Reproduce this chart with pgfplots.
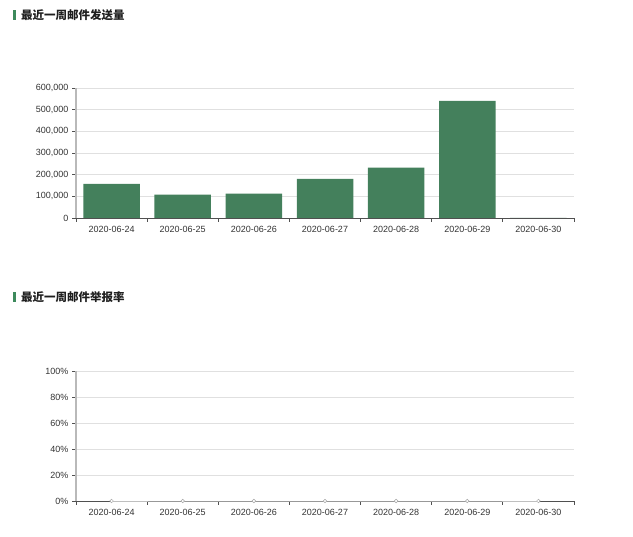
\documentclass[border=0pt]{standalone}
\usepackage{pgfplots}
\pgfplotsset{compat=1.18}
\usepackage{fontspec}
\setmainfont{Liberation Sans}
\newfontfamily\cjk{Noto Sans CJK SC}
\definecolor{bargreen}{RGB}{68,128,92}
\definecolor{titlegreen}{RGB}{61,138,92}
\definecolor{gridgray}{RGB}{224,224,224}
\definecolor{yaxgray}{RGB}{185,185,185}
\definecolor{xaxgray}{RGB}{80,80,80}
\definecolor{txtgray}{RGB}{51,51,51}

\pgfplotsset{
  weekaxis/.style={
    scale only axis,
    width=498pt, height=130pt,
    anchor=south west,
    xmin=-0.5, xmax=6.5,
    xtick={0,...,6},
    xticklabels={2020-06-24,2020-06-25,2020-06-26,2020-06-27,2020-06-28,2020-06-29,2020-06-30},
    major x tick style={draw=none},
    minor xtick={-0.5,0.5,...,6.5},
    minor x tick style={xaxgray, line width=0.8pt},
    minor tick length=4pt,
    tick align=outside,
    major tick length=4pt,
    axis x line*=bottom,
    axis y line*=left,
    x axis line style={xaxgray, line width=0.8pt, -},
    y axis line style={draw=none},
    y tick style={xaxgray, line width=0.6pt},
    ymajorgrids,
    grid style={gridgray, line width=0.7pt},
    tick label style={font=\fontsize{9}{10}\selectfont, text=txtgray},
    xticklabel style={yshift=-1pt},
    /pgf/number format/assume math mode=true,
    clip=false,
  },
}

\begin{document}
\begin{tikzpicture}[x=1pt,y=1pt]
\path[use as bounding box] (0,0) rectangle (633,537);

% titles
\fill[titlegreen] (13,517) rectangle (15.5,527);
\node[anchor=west, inner sep=0pt, text=black!88] at (21,522) {\cjk\bfseries\fontsize{11.5}{12}\selectfont 最近一周邮件发送量};
\fill[titlegreen] (13,234.5) rectangle (15.5,244.5);
\node[anchor=west, inner sep=0pt, text=black!88] at (21,239.5) {\cjk\bfseries\fontsize{11.5}{12}\selectfont 最近一周邮件举报率};

% top: send volume
\begin{axis}[weekaxis,
  at={(76pt,319pt)},
  ymin=0, ymax=600000,
  ytick={0,100000,...,600000},
  scaled y ticks=false,
  yticklabel style={/pgf/number format/.cd, fixed, 1000 sep={,}},
]
\addplot[ybar, bar width=56.5pt, fill=bargreen, draw=none] coordinates {
  (0,158000) (1,107500) (2,112000) (3,180000) (4,232000) (5,541000) (6,0)
};
\end{axis}
\draw[yaxgray, line width=1.6pt] (76,319) -- (76,449);

% bottom: report rate
\begin{axis}[weekaxis,
  at={(76pt,36pt)},
  ymin=0, ymax=100,
  ytick={0,20,...,100},
  yticklabel={\pgfmathprintnumber{\tick}\%},
]
\addplot[gray!50, line width=0.8pt, mark=*, mark size=1.8pt,
  mark options={fill=white, draw=gray!70, line width=0.5pt}] coordinates {
  (0,0) (1,0) (2,0) (3,0) (4,0) (5,0) (6,0)
};
\end{axis}
\draw[yaxgray, line width=1.6pt] (76,36) -- (76,166);
\end{tikzpicture}
\end{document}
